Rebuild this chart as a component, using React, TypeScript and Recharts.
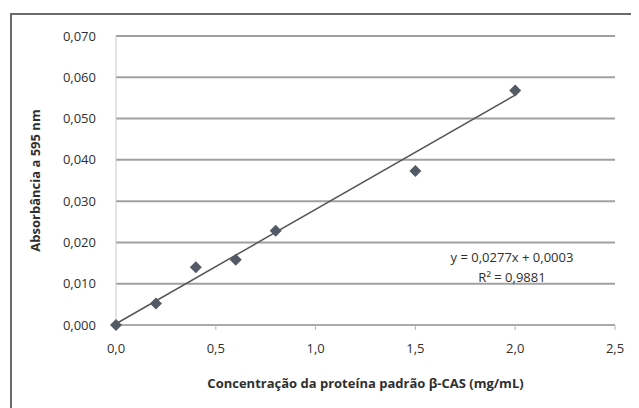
import React from "react";
import {
  ScatterChart,
  Scatter,
  XAxis,
  YAxis,
  CartesianGrid,
  ReferenceLine,
  Label,
} from "recharts";

// standard curve readings
const concentrations = [0, 0.2, 0.4, 0.6, 0.8, 1.5, 2.0];
const absorbances = [0, 0.0052, 0.014, 0.0158, 0.0228, 0.0373, 0.0568];

const xTicks = [0, 0.5, 1, 1.5, 2, 2.5];
const yTicks = [0, 0.01, 0.02, 0.03, 0.04, 0.05, 0.06, 0.07];

// linear fit shown on chart
const trendSlope = 0.0277;
const trendIntercept = 0.0003;
const trendRange = [0, 2];

const points = concentrations.map((x, i) => ({ x, y: absorbances[i] }));
const trendSegment = trendRange.map((x) => ({ x, y: trendSlope * x + trendIntercept }));

const FONT = "'Open Sans', sans-serif";
const TEXT = "#2f2f2f";

const fmt = (d: number) => (v: number) => v.toFixed(d).replace(".", ",");

// excel-style square diamond marker
const Diamond = (props: any) => {
  const { cx, cy } = props;
  const r = 6;
  return (
    <polygon
      points={`${cx},${cy - r} ${cx + r},${cy} ${cx},${cy + r} ${cx - r},${cy}`}
      fill="#525a66"
    />
  );
};

const App: React.FC = () => {
  return (
    <div style={{ position: "relative", margin: "-8px 0 0 -8px", width: 639, height: 408, overflow: "hidden", background: "#fff", fontFamily: FONT }}>
      {/* chart frame */}
      <div style={{ position: "absolute", left: 10, top: 13, width: 660, height: 420, border: "2px solid #6a6a6a", boxSizing: "border-box" }} />

      <div style={{ position: "absolute", left: 0, top: 0 }}>
        <ScatterChart width={639} height={408} margin={{ top: 36, right: 24, bottom: 23, left: 20 }}>
          <CartesianGrid vertical={false} stroke="#a0a0a0" strokeWidth={2} />
          <XAxis
            type="number"
            dataKey="x"
            domain={[0, 2.5]}
            ticks={xTicks}
            tickFormatter={fmt(1)}
            height={60}
            stroke="#b5b5b5"
            tickSize={5}
            tickMargin={14}
            tick={{ fill: TEXT, fontSize: 13, fontFamily: FONT }}
          >
            <Label
              content={({ viewBox }: any) => (
                <text
                  x={viewBox.x + viewBox.width / 2}
                  y={383}
                  textAnchor="middle"
                  dominantBaseline="central"
                  fontSize={13}
                  fontWeight="bold"
                  fontFamily={FONT}
                  fill={TEXT}
                >
                  Concentração da proteína padrão β-CAS (mg/mL)
                </text>
              )}
            />
          </XAxis>
          <YAxis
            type="number"
            dataKey="y"
            domain={[0, 0.07]}
            ticks={yTicks}
            tickFormatter={fmt(3)}
            width={96}
            stroke="#c8c8c8"
            tickLine={false}
            tickMargin={14}
            tick={{ fill: TEXT, fontSize: 13, fontFamily: FONT }}
          >
            <Label
              content={({ viewBox }: any) => {
                const cy = viewBox.y + viewBox.height / 2;
                return (
                  <text
                    x={35}
                    y={cy}
                    transform={`rotate(-90, 35, ${cy})`}
                    textAnchor="middle"
                    dominantBaseline="central"
                    fontSize={13}
                    fontWeight="bold"
                    fontFamily={FONT}
                    fill={TEXT}
                  >
                    Absorbância a 595 nm
                  </text>
                );
              }}
            />
          </YAxis>
          <ReferenceLine segment={trendSegment} stroke="#555" strokeWidth={1.5} ifOverflow="extendDomain" />
          <Scatter data={points} shape={Diamond} isAnimationActive={false} />
        </ScatterChart>
      </div>

      <div style={{ position: "absolute", left: 432, top: 247, width: 160, textAlign: "center", fontSize: 13, lineHeight: "20px", color: TEXT }}>
        <div>y = 0,0277x + 0,0003</div>
        <div>R² = 0,9881</div>
      </div>
    </div>
  );
};

export default App;
